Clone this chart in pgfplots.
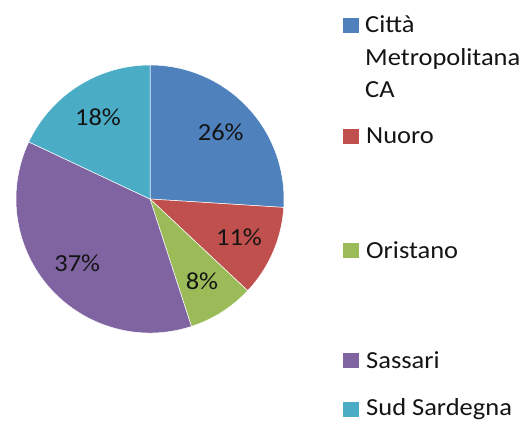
\documentclass[border=0pt]{standalone}
\usepackage{pgfplots}
\pgfplotsset{compat=1.18}
\usepackage{pgfplotstable}
\usepackage{fontspec}
\setmainfont{Carlito}
\definecolor{c0}{HTML}{4F81BD}
\definecolor{c1}{HTML}{C0504D}
\definecolor{c2}{HTML}{9BBB59}
\definecolor{c3}{HTML}{8064A2}
\definecolor{c4}{HTML}{4BACC6}
\definecolor{txt}{HTML}{141414}
\newcommand\lblfont{\fontsize{24.5}{28}\selectfont}
\pgfplotstableread{
idx value
0 26
1 11
2 8
3 37
4 18
}\piedata
\begin{document}
\begin{tikzpicture}
\path[use as bounding box] (0,0) rectangle (525pt,421pt);
\begin{axis}[
  x=1pt, y=1pt, scale only axis,
  xmin=0, xmax=525, ymin=0, ymax=421,
  hide axis, clip=false,
  anchor=origin, at={(0,0)},
]
\def\startangle{90}
\pgfplotsforeachungrouped \i in {0,...,4}{%
  \pgfplotstablegetelem{\i}{value}\of\piedata
  \let\val\pgfplotsretval
  \pgfmathsetmacro\endangle{\startangle - 3.6*\val}%
  \pgfmathsetmacro\midangle{(\startangle+\endangle)/2}%
  \edef\temp{%
    \noexpand\fill[c\i, draw=white, line width=0.5pt] (axis cs:150,222) -- ++(\startangle:134pt) arc[start angle=\startangle, end angle=\endangle, radius=134pt] -- cycle;
    \noexpand\node[font=\noexpand\lblfont, text=txt, xscale=1.08, inner sep=0pt] at ([shift={(\midangle:97pt)}]axis cs:150,222) {\val\noexpand\%};
  }%
  \temp
  \let\startangle\endangle
}
% legend
\begin{scope}[every node/.style={font=\lblfont, text=txt, xscale=1.08, inner sep=0pt, anchor=base west}]
\fill[c0] (axis cs:343,388) rectangle (axis cs:359,403);
\node at (axis cs:365,388) {Città};
\node at (axis cs:365,355.5) {Metropolitana};
\node at (axis cs:365,323) {CA};
\fill[c1] (axis cs:343,277) rectangle (axis cs:359,292);
\node at (axis cs:366,277) {Nuoro};
\fill[c2] (axis cs:343,163) rectangle (axis cs:359,178);
\node at (axis cs:366,163) {Oristano};
\fill[c3] (axis cs:343,53) rectangle (axis cs:359,68);
\node at (axis cs:366,53) {Sassari};
\fill[c4] (axis cs:343,4) rectangle (axis cs:359,19);
\node at (axis cs:366,5.5) {Sud Sardegna};
\end{scope}
\end{axis}
\end{tikzpicture}
\end{document}
